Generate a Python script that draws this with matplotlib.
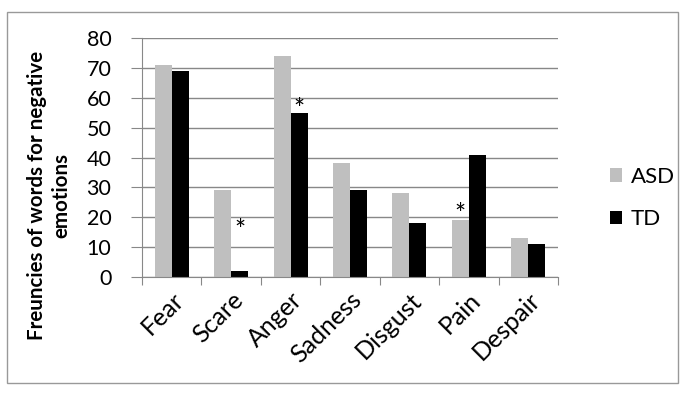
import numpy as np
import matplotlib.pyplot as plt
from matplotlib.patches import Rectangle

plt.rcParams['font.family'] = ['Lato', 'DejaVu Sans']

categories = ["Fear", "Scare", "Anger", "Sadness", "Disgust", "Pain", "Despair"]
asd = [71, 29, 74, 38, 28, 19, 13]
td = [69, 2, 55, 29, 18, 41, 11]
# (category index, series, value height of the asterisk)
stars = [(1, "TD", 11), (2, "TD", 51.5), (5, "ASD", 16.5)]

fig = plt.figure(figsize=(6.87, 3.94), dpi=100)
ax = fig.add_axes([142/687, 1-277/394, 416/687, 239/394])

x = np.arange(len(categories))
w = 0.286
ax.bar(x - w/2, asd, w, color="#bfbfbf", label="ASD")
ax.bar(x + w/2, td, w, color="black", label="TD")

for i, s, v in stars:
    off = -w/2 if s == "ASD" else w/2
    ax.text(i + off, v, "*", ha="center", va="bottom", fontsize=19)

ax.set_xlim(-0.5, len(categories) - 0.5)
ax.set_ylim(0, 80)
ax.set_yticks(range(0, 81, 10))
ax.set_xticks(np.arange(-0.5, len(categories), 1))
ax.set_xticklabels([])
ax.set_xticks(x, minor=True)
ax.set_xticklabels(categories, minor=True, rotation=45, ha="right",
                   rotation_mode="anchor", fontsize=18)
ax.tick_params(axis="x", which="minor", length=0, pad=8)
ax.tick_params(axis="x", which="major", length=6, color="#888888", direction="out")
ax.tick_params(axis="y", length=8, color="#888888", labelsize=15.5, pad=14)
ax.yaxis.grid(True, color="#888888", linewidth=1)
ax.set_axisbelow(True)
for sp in ["top", "right"]:
    ax.spines[sp].set_visible(False)
for sp in ["left", "bottom"]:
    ax.spines[sp].set_color("#888888")

fig.text(49/687, 1-195/394, "Freuncies of words for negative\nemotions",
         rotation=90, ha="center", va="center", multialignment="center",
         fontsize=14.8, fontweight="bold", linespacing=1.3)

fig.legend(loc="center left", bbox_to_anchor=(590/687, 1-198/394), frameon=False,
           fontsize=16, handlelength=0.55, handleheight=0.55, labelspacing=1.0,
           handletextpad=0.4)

fig.patches.append(Rectangle((7/687, 1-383/394), 671/687, 371/394,
                             transform=fig.transFigure, fill=False,
                             edgecolor="#999999", linewidth=1))

fig.savefig("out.png", dpi=100)
